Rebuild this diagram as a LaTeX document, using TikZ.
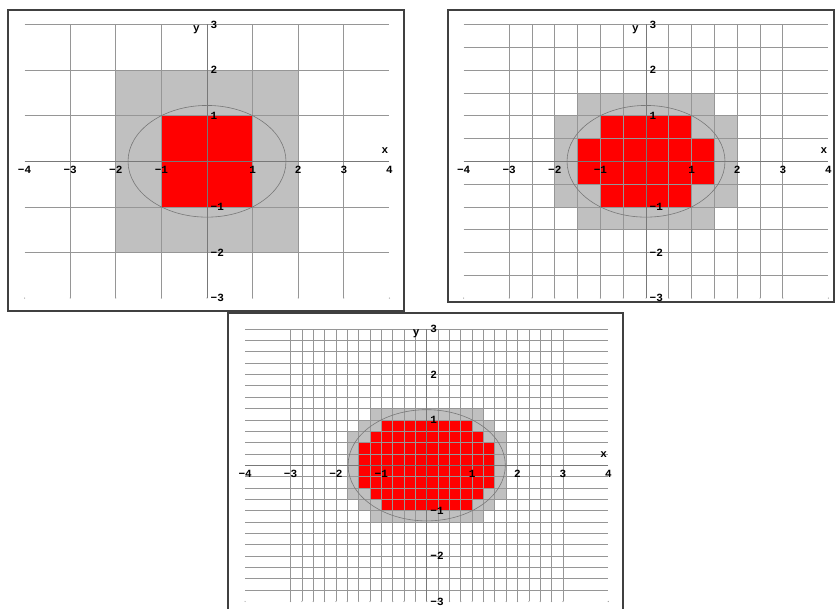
\documentclass[tikz,border=0pt]{standalone}
\usepackage{fontspec}
\setmonofont{Liberation Mono}
\usetikzlibrary{positioning}

\definecolor{gridgray}{RGB}{150,150,150}
\definecolor{cellgray}{RGB}{192,192,192}
\definecolor{axisgray}{RGB}{120,120,120}

% one panel: grid of step #1, axes, ellipse and labels; #2 = name prefix
\newcommand{\gridpanel}[2]{%
  \pgfmathsetmacro{\gfirst}{-3+#1}
  \pgfmathsetmacro{\gsecond}{-3+2*#1}
  % grid
  \foreach \gx in {-3,\gfirst,...,3}
    \draw[gridline] (\gx,-3) -- (\gx,3);
  \foreach \gy in {\gfirst,\gsecond,...,3}
    \draw[gridline] (-4,\gy) -- (4,\gy);
  \foreach \gx in {-3,\gfirst,...,3}
    \fill[griddot] (\gx,-3) circle (0.6pt);
  \fill[griddot] (-4,-3) circle (0.6pt);
  \fill[griddot] (4,-3) circle (0.6pt);
  % axes and ellipse
  \draw[axisline] (-4,0) -- (4,0);
  \draw[axisline] (0,-3) -- (0,3);
  \draw[curve] (0,0) ellipse [x radius={sqrt(3)}, y radius={sqrt(1.5)}];
  % labels
  \foreach \v/\t [count=\k] in {-4/−4,-3/−3,-2/−2,-1/−1,1/1,2/2,3/3,4/4}
    \node[ticklabel, below=5pt] (#2x\k) at (\v,0) {\t};
  \foreach \v/\t [count=\k] in {-3/−3,-2/−2,-1/−1,1/1,2/2,3/3}
    \node[ticklabel, right=3.5pt] (#2y\k) at (0,\v) {\t};
  \node[ticklabel] (#2xname) at (3.9,0.23) {x};
  \node[ticklabel] (#2yname) at (-0.23,2.89) {y};
}

\begin{document}
\begin{tikzpicture}[
    x=1pt, y=1pt,
    frame/.style={draw=black!75, line width=1.2pt},
    cellout/.style={fill=cellgray},
    cellin/.style={fill=red},
    gridline/.style={draw=gridgray, line width=0.7pt},
    axisline/.style={draw=axisgray, line width=0.8pt},
    curve/.style={draw=axisgray, line width=0.6pt},
    griddot/.style={fill=gridgray},
    ticklabel/.style={inner sep=0pt, font={\ttfamily\bfseries\fontsize{11}{11}\selectfont}}
]
\useasboundingbox (0,0) rectangle (835,609);

% frames
\draw[frame] (8,298) rectangle (404,599);
\draw[frame] (448,307) rectangle (834,599);
\draw[frame] (228,-5) rectangle (623,296);

% step 1
\begin{scope}[shift={(207pt,447.7pt)}, x=45.6pt, y=45.6pt]
  \fill[cellout] (-2,-2) rectangle (2,2);
  \fill[cellin] (-1,-1) rectangle (1,1);
  \gridpanel{1}{a}
\end{scope}

% step 1/2
\begin{scope}[shift={(646pt,447.7pt)}, x=45.6pt, y=45.6pt]
  \fill[cellout] (-2,-1) rectangle (2,1);
  \fill[cellout] (-1.5,-1.5) rectangle (1.5,1.5);
  \fill[cellin] (-1.5,-0.5) rectangle (1.5,0.5);
  \fill[cellin] (-1,-1) rectangle (1,1);
  \gridpanel{0.5}{b}
\end{scope}

% step 1/4
\begin{scope}[shift={(426.7pt,143.7pt)}, x=45.4pt, y=45.4pt]
  \fill[cellout] (-1.75,-0.75) rectangle (1.75,0.75);
  \fill[cellout] (-1.5,-1) rectangle (1.5,1);
  \fill[cellout] (-1.25,-1.25) rectangle (1.25,1.25);
  \fill[cellin] (-1.5,-0.5) rectangle (1.5,0.5);
  \fill[cellin] (-1.25,-0.75) rectangle (1.25,0.75);
  \fill[cellin] (-1,-1) rectangle (1,1);
  \gridpanel{0.25}{c}
\end{scope}
\end{tikzpicture}
\end{document}
